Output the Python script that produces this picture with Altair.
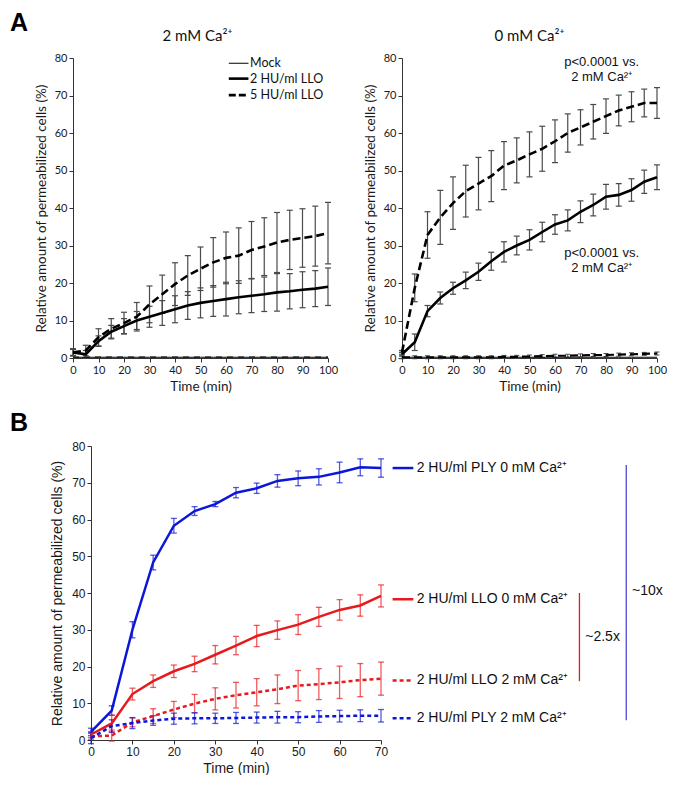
import altair as alt
import pandas as pd

# ------------------------------------------------------------------ data
T_A = [0, 5, 10, 15, 20, 25, 30, 35, 40, 45, 50, 55, 60, 65, 70, 75, 80, 85, 90, 95, 100]

# Panel A, 2 mM Ca2+
L_MOCK = [0.2, 0.2, 0.2, 0.2, 0.2, 0.2, 0.2, 0.2, 0.2, 0.2, 0.2, 0.2, 0.2, 0.2, 0.2, 0.2, 0.2, 0.2, 0.2, 0.2, 0.2]
L_MOCK5 = [0.3, 0.3, 0.3, 0.3, 0.3, 0.3, 0.3, 0.3, 0.3, 0.3, 0.3, 0.3, 0.3, 0.3, 0.3, 0.3, 0.3, 0.3, 0.3, 0.3, 0.3]
L_2HU = [1.5, 1.0, 4.5, 7.0, 8.5, 10.0, 11.0, 12.0, 13.0, 14.0, 14.7, 15.2, 15.7, 16.2, 16.6, 17.0, 17.5, 17.8, 18.2, 18.5, 19.0]
L_2HU_ERR = [0.8, 1.0, 1.4, 1.7, 2.0, 2.4, 2.8, 3.3, 3.6, 3.7, 4.0, 4.1, 4.5, 4.4, 4.5, 4.6, 5.0, 4.7, 4.8, 4.8, 5.0]
L_5HU = [1.5, 2.0, 5.5, 7.8, 9.3, 11.0, 14.3, 17.0, 19.7, 22.0, 23.8, 25.5, 26.7, 27.3, 28.8, 29.7, 30.8, 31.5, 32.0, 32.5, 33.3]
L_5HU_ERR = [1.0, 1.4, 2.3, 2.7, 2.9, 3.8, 4.9, 5.1, 5.7, 5.3, 5.8, 6.6, 6.9, 7.4, 7.6, 7.7, 8.0, 7.9, 7.8, 8.0, 8.2]

# Panel A, 0 mM Ca2+
R_MOCK = [0.2, 0.2, 0.2, 0.2, 0.2, 0.2, 0.2, 0.2, 0.2, 0.2, 0.2, 0.2, 0.2, 0.2, 0.2, 0.2, 0.2, 0.2, 0.2, 0.2, 0.2]
R_MOCK5 = [0.2, 0.2, 0.2, 0.2, 0.2, 0.2, 0.2, 0.2, 0.3, 0.3, 0.4, 0.5, 0.6, 0.6, 0.7, 0.8, 0.8, 0.9, 1.0, 1.1, 1.2]
R_MOCK5_ERR = [0.4, 0.4, 0.4, 0.4, 0.4, 0.4, 0.4, 0.4, 0.4, 0.4, 0.4, 0.4, 0.4, 0.4, 0.4, 0.4, 0.4, 0.4, 0.4, 0.4, 0.4]
R_2HU = [1.0, 4.2, 12.5, 16.0, 18.6, 20.7, 23.0, 25.8, 28.3, 30.0, 31.5, 33.6, 35.6, 36.7, 39.0, 40.8, 43.0, 43.5, 44.8, 47.0, 48.2]
R_2HU_ERR = [0.5, 2.2, 1.5, 1.6, 1.6, 2.2, 2.3, 2.4, 2.7, 2.5, 2.7, 2.6, 2.6, 2.8, 2.9, 2.9, 3.3, 3.0, 3.0, 3.1, 3.3]
R_5HU = [1.5, 18.7, 32.8, 37.5, 41.3, 44.5, 46.5, 48.5, 51.3, 52.7, 54.3, 55.8, 57.8, 60.0, 61.5, 63.0, 64.5, 66.0, 67.0, 68.0, 68.0]
R_5HU_ERR = [0.5, 3.7, 6.2, 7.2, 7.0, 6.9, 7.0, 6.8, 6.4, 6.0, 6.0, 6.0, 5.7, 5.1, 4.7, 4.6, 4.6, 4.1, 4.0, 3.7, 4.1]

# Panel B
T_B = [0, 5, 10, 15, 20, 25, 30, 35, 40, 45, 50, 55, 60, 65, 70]
PLY0 = [2.2, 8.0, 30.0, 48.3, 58.3, 62.3, 64.2, 67.3, 68.5, 70.5, 71.2, 71.6, 72.8, 74.2, 74.0]
PLY0_ERR = [1.0, 1.3, 2.2, 2.0, 2.0, 1.2, 0.7, 1.4, 1.4, 1.7, 2.0, 2.2, 2.8, 2.3, 2.5]
LLO0 = [1.5, 4.5, 12.5, 16.0, 18.7, 20.7, 23.2, 25.7, 28.3, 29.9, 31.4, 33.5, 35.4, 36.6, 39.2]
LLO0_ERR = [0.8, 2.3, 1.6, 1.7, 1.7, 2.1, 2.5, 2.5, 2.9, 2.5, 2.7, 2.6, 2.8, 2.9, 3.0]
LLO2 = [1.0, 1.2, 4.8, 6.5, 8.3, 9.9, 11.2, 12.2, 13.0, 13.8, 14.8, 15.2, 15.7, 16.3, 16.7]
LLO2_ERR = [0.8, 1.5, 1.2, 2.0, 2.2, 2.5, 3.0, 3.5, 3.7, 3.9, 4.1, 4.2, 4.4, 4.5, 4.5]
PLY2 = [0.5, 3.8, 4.6, 5.3, 5.8, 5.9, 5.9, 6.0, 6.1, 6.2, 6.2, 6.4, 6.5, 6.6, 6.6]
PLY2_ERR = [1.5, 1.7, 1.5, 1.3, 1.5, 1.5, 1.4, 1.5, 1.5, 1.6, 1.5, 1.6, 1.6, 1.6, 1.7]

# legends / annotations
LEG_A_LABELS = ["Mock", "2 HU/ml LLO", "5 HU/ml LLO"]
LEG_A_Y = [78.6, 74.5, 70.1]
LEG_A_X = [61.1, 68.8, 69.4]          # line start, line end, text start
P_LINES = ["p<0.0001 vs.", "2 mM Ca²⁺", "p<0.0001 vs.", "2 mM Ca²⁺"]
P_Y = [79.0, 75.0, 27.9, 23.9]
P_X = [78.3, 78.3, 78.3, 78.3]
LEG_B_LABELS = ["2 HU/ml PLY 0 mM Ca²⁺", "2 HU/ml LLO 0 mM Ca²⁺", "2 HU/ml LLO 2 mM Ca²⁺", "2 HU/ml PLY 2 mM Ca²⁺"]
LEG_B_Y = [74.0, 38.3, 16.2, 5.9]
LEG_B_X = [72.8, 77.8, 78.6]
BRACKETS_X = [117.9, 129.2]
BRACKETS_Y = [40.0, 74.8]
BRACKETS_Y2 = [16.0, 5.4]
FOLD_LABELS = ["~2.5x", "~10x"]
FOLD_X = [119.3, 130.6]
FOLD_Y = [28.1, 40.5]

# ------------------------------------------------------------------ styles
FA = "Lato"
FB = "Liberation Sans"
YT = "Relative amount of permeabilized cells (%)"
BLUE = "#0b16d9"
RED = "#e8191c"
WA, HA = 255, 300
WB, HB = 290, 294

SY = alt.Scale(domain=[0, 80], nice=False)
SXA = alt.Scale(domain=[0, 100], nice=False)
SXB = alt.Scale(domain=[0, 70], nice=False)


def ax_x(font, ls, ts, vals):
    return alt.Axis(values=vals, title="Time (min)", grid=False, labelFont=font, titleFont=font,
                    labelFontSize=ls, titleFontSize=ts, titleFontWeight="normal",
                    labelColor="#1a1a1a", titleColor="#1a1a1a", domainColor="#333",
                    tickColor="#333", tickSize=4, labelPadding=2, titlePadding=4,
                    labelFlush=False, labelOverlap=False)


def ax_y(font, ls, ts, tp):
    return alt.Axis(values=list(range(0, 81, 10)), title=YT, grid=False, labelFont=font,
                    titleFont=font, labelFontSize=ls, titleFontSize=ts, titleFontWeight="normal",
                    labelColor="#1a1a1a", titleColor="#1a1a1a", domainColor="#333",
                    tickColor="#333", tickSize=4, labelPadding=2, titlePadding=tp,
                    labelOverlap=False)


AXA = ax_x(FA, 11, 13.5, list(range(0, 101, 10)))
AYA = ax_y(FA, 11, 13.5, 6)
AXB = ax_x(FB, 12, 14, list(range(0, 71, 10)))
AYB = ax_y(FB, 12, 14, 7)


def enc(sx, sy, xa, ya):
    def X(f):
        return alt.X(f, type="quantitative", scale=sx, axis=xa)

    def Y(f):
        return alt.Y(f, type="quantitative", scale=sy, axis=ya)
    return X, Y


def errbars(t, m, e, X, Y, color, cap, op=1.0, w=1.0):
    df = pd.DataFrame({"t": t, "lo": [a - b for a, b in zip(m, e)], "hi": [a + b for a, b in zip(m, e)]})
    base = alt.Chart(df)
    out = [base.mark_rule(color=color, strokeWidth=w, opacity=op).encode(x=X("t"), y=Y("lo"), y2="hi")]
    for f in ("lo", "hi"):
        out.append(base.mark_tick(orient="horizontal", size=cap, thickness=w, color=color, opacity=op)
                   .encode(x=X("t"), y=Y(f)))
    return out


def line(t, m, X, Y, color, width, dash=None):
    df = pd.DataFrame({"t": t, "m": m})
    kw = dict(color=color, strokeWidth=width)
    if dash:
        kw["strokeDash"] = dash
    return alt.Chart(df).mark_line(**kw).encode(x=X("t"), y=Y("m"))


def label_text(txt, x, y, font, size, align="left", weight="normal", op=1.0, color="#111"):
    return alt.Chart(pd.DataFrame({"s": [txt]})).mark_text(
        align=align, baseline="middle", font=font, fontSize=size, fontWeight=weight,
        opacity=op, color=color).encode(x=alt.value(x), y=alt.value(y), text="s:N")


def spacer(letter, w, h, y):
    return label_text(letter, 0, y, FB, 25, weight="bold", color="#000").properties(width=w, height=h)


# ------------------------------------------------------------------ panel A left
X, Y = enc(SXA, SY, AXA, AYA)
GREY = "#4a4a4a"
layers = []
layers += errbars(T_A, L_2HU, L_2HU_ERR, X, Y, GREY, 6, 1.0, 1.2)
layers += errbars(T_A, L_5HU, L_5HU_ERR, X, Y, GREY, 6, 1.0, 1.2)
layers.append(line(T_A, L_MOCK5, X, Y, "#555", 1.5, [6, 5]))
layers.append(line(T_A, L_MOCK, X, Y, "#000", 1))
layers.append(line(T_A, L_2HU, X, Y, "#000", 2.6))
layers.append(line(T_A, L_5HU, X, Y, "#000", 2.6, [8, 4]))
styles = [(1, None), (2.6, None), (2.6, [7, 3])]
for lab, yv, (w, d) in zip(LEG_A_LABELS, LEG_A_Y, styles):
    df = pd.DataFrame({"x1": [LEG_A_X[0]], "x2": [LEG_A_X[1]], "y": [yv], "tx": [LEG_A_X[2]], "s": [lab]})
    kw = dict(color="#000", strokeWidth=w)
    if d:
        kw["strokeDash"] = d
    layers.append(alt.Chart(df).mark_rule(**kw).encode(x=X("x1"), x2="x2", y=Y("y")))
    layers.append(alt.Chart(df).mark_text(align="left", baseline="middle", font=FA, fontSize=12.5, color="#111")
                  .encode(x=X("tx"), y=Y("y"), text="s:N"))
layers.append(label_text("2 mM Ca²⁺", WA / 2 - 3, -22, FA, 15, align="center"))
a_left = alt.layer(*layers).properties(width=WA, height=HA)

# ------------------------------------------------------------------ panel A right
layers = []
layers += errbars(T_A, R_2HU, R_2HU_ERR, X, Y, GREY, 6, 1.0, 1.2)
layers += errbars(T_A, R_5HU, R_5HU_ERR, X, Y, GREY, 6, 1.0, 1.2)
layers += errbars(T_A, R_MOCK5, R_MOCK5_ERR, X, Y, GREY, 5, 1.0, 1.0)
layers.append(line(T_A, R_MOCK, X, Y, "#000", 1))
layers.append(line(T_A, R_MOCK5, X, Y, "#000", 2.2, [8, 4]))
layers.append(line(T_A, R_2HU, X, Y, "#000", 2.6))
layers.append(line(T_A, R_5HU, X, Y, "#000", 2.6, [8, 4]))
pdf = pd.DataFrame({"x": P_X, "y": P_Y, "s": P_LINES})
layers.append(alt.Chart(pdf).mark_text(align="center", baseline="middle", font=FB, fontSize=13, color="#111")
              .encode(x=X("x"), y=Y("y"), text="s:N"))
layers.append(label_text("0 mM Ca²⁺", WA / 2, -22, FA, 15, align="center"))
a_right = alt.layer(*layers).properties(width=WA, height=HA)

# ------------------------------------------------------------------ panel B
X, Y = enc(SXB, SY, AXB, AYB)
layers = []
layers += errbars(T_B, PLY0, PLY0_ERR, X, Y, BLUE, 6, 0.7, 1.3)
layers += errbars(T_B, LLO0, LLO0_ERR, X, Y, RED, 6, 0.7, 1.3)
layers += errbars(T_B, LLO2, LLO2_ERR, X, Y, RED, 6, 0.7, 1.3)
layers += errbars(T_B, PLY2, PLY2_ERR, X, Y, BLUE, 6, 0.7, 1.3)
layers.append(line(T_B, PLY0, X, Y, BLUE, 2.5))
layers.append(line(T_B, LLO0, X, Y, RED, 2.5))
layers.append(line(T_B, LLO2, X, Y, RED, 2.5, [4, 3]))
layers.append(line(T_B, PLY2, X, Y, BLUE, 2.5, [4, 3]))
bstyles = [(BLUE, None), (RED, None), (RED, [4, 3]), (BLUE, [4, 3])]
for lab, yv, (c, d) in zip(LEG_B_LABELS, LEG_B_Y, bstyles):
    df = pd.DataFrame({"x1": [LEG_B_X[0]], "x2": [LEG_B_X[1]], "y": [yv], "tx": [LEG_B_X[2]], "s": [lab]})
    kw = dict(color=c, strokeWidth=2.5)
    if d:
        kw["strokeDash"] = d
    layers.append(alt.Chart(df).mark_rule(**kw).encode(x=X("x1"), x2="x2", y=Y("y")))
    layers.append(alt.Chart(df).mark_text(align="left", baseline="middle", font=FB, fontSize=14, color="#111")
                  .encode(x=X("tx"), y=Y("y"), text="s:N"))
for bx, by, by2, c in zip(BRACKETS_X, BRACKETS_Y, BRACKETS_Y2, [RED, "#4a4ad0"]):
    df = pd.DataFrame({"x": [bx], "y": [by], "y2": [by2]})
    layers.append(alt.Chart(df).mark_rule(color=c, strokeWidth=1.3).encode(x=X("x"), y=Y("y"), y2="y2"))
fdf = pd.DataFrame({"x": FOLD_X, "y": FOLD_Y, "s": FOLD_LABELS})
layers.append(alt.Chart(fdf).mark_text(align="left", baseline="middle", font=FB, fontSize=14, color="#111")
              .encode(x=X("x"), y=Y("y"), text="s:N"))
b_panel = alt.layer(*layers).properties(width=WB, height=HB)

top = alt.hconcat(spacer("A", 24, HA, -35), alt.hconcat(a_left, a_right, spacing=25), spacing=0)
bottom = alt.hconcat(spacer("B", 40, HB, -23), b_panel, spacing=0)
chart = alt.vconcat(top, bottom, spacing=18).properties(
    padding={"left": 2, "top": 3, "right": 0, "bottom": 0}).configure_view(stroke=None)
chart.save("out.html", embed_options={"renderer": "svg", "actions": False})
